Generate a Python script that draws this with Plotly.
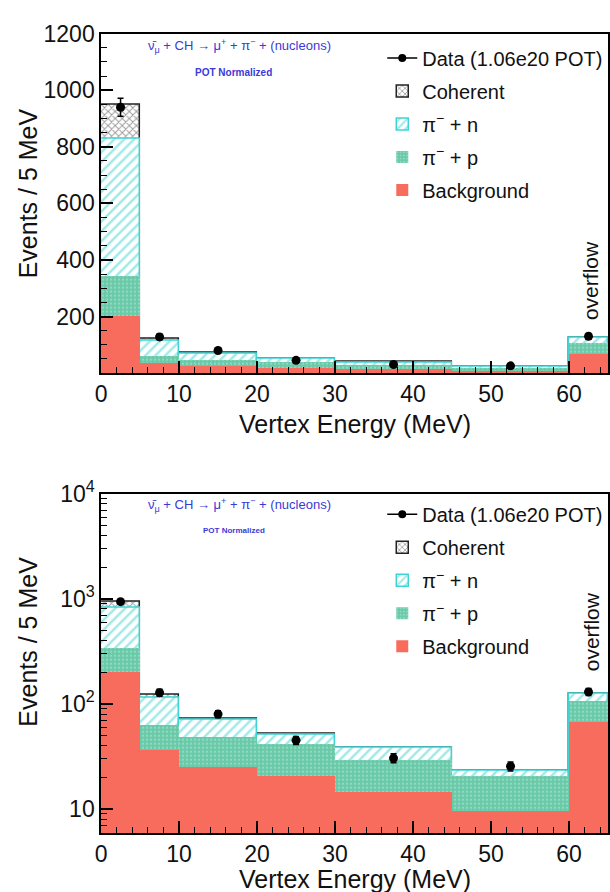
import numpy as np
import plotly.graph_objects as go

# ---------------- data (events / 5 MeV) ----------------
bin_edges = [0, 5, 10, 20, 30, 45, 60, 65]          # last bin = overflow
background = [203, 37, 25.5, 20.5, 14.6, 9.7, 67]
pim_p = [142, 26, 23.5, 21.5, 14.9, 10.9, 40]        # pi- + p
pim_n = [483, 52, 21, 9, 8.5, 2.4, 17]               # pi- + n
coherent = [120, 6, 2, 1, 0.6, 0.3, 2]
data_vals = [940, 128, 80, 45, 30.5, 25.5, 130]
data_errs = [32, 10, 6, 4, 3, 2.5, 10]

x_ticks = [0, 10, 20, 30, 40, 50, 60]
lin_ticks = [200, 400, 600, 800, 1000, 1200]
log_ticks = [10, 100, 1000, 10000]
log_ticktext = ["10", "10<sup>2</sup>", "10<sup>3</sup>", "10<sup>4</sup>"]

# ---------------- derived ----------------
edges = np.array(bin_edges, dtype=float)
centers = (edges[:-1] + edges[1:]) / 2
widths = edges[1:] - edges[:-1]
cum_bkg = np.array(background)
cum_p = cum_bkg + np.array(pim_p)
cum_n = cum_p + np.array(pim_n)
cum_coh = cum_n + np.array(coherent)

W, H = 610, 892
FONT = "Liberation Sans, Arial, Helvetica, sans-serif"
BLUE = "#3a3ad8"
RED = "#f86c5e"
CYAN = "#3fd3d3"
GREEN_BG = "#69c9a8"
GREEN_FG = "#b9ecd9"

fig = go.Figure()

panels = [("x", "y", "legend", "t"), ("x2", "y2", "legend2", "b")]
for xa, ya, lg, tag in panels:
    # legend-only entry for data (line + marker as in the reference)
    fig.add_trace(go.Scatter(
        x=[None], y=[None], mode="lines+markers", name="Data (1.06e20 POT)",
        line=dict(color="black", width=1.5), marker=dict(color="black", size=8),
        xaxis=xa, yaxis=ya, legend=lg, legendgroup=tag + "d"))
    fig.add_trace(go.Bar(
        x=centers, y=cum_coh, width=widths, name="Coherent",
        marker=dict(color="white", line=dict(color="#222222", width=1.5),
                    pattern=dict(shape="x", fgcolor="#333333", bgcolor="white",
                                 size=5, solidity=0.35)),
        xaxis=xa, yaxis=ya, legend=lg, legendgroup=tag + "c"))
    fig.add_trace(go.Bar(
        x=centers, y=cum_n, width=widths, name="π<sup>−</sup> + n",
        marker=dict(color="white", line=dict(color=CYAN, width=1.5),
                    pattern=dict(shape="/", fgcolor=CYAN, bgcolor="white",
                                 size=7, solidity=0.35)),
        xaxis=xa, yaxis=ya, legend=lg, legendgroup=tag + "n"))
    fig.add_trace(go.Bar(
        x=centers, y=cum_p, width=widths, name="π<sup>−</sup> + p",
        marker=dict(color=GREEN_BG, line=dict(width=0),
                    pattern=dict(shape=".", fgcolor=GREEN_FG, bgcolor=GREEN_BG,
                                 size=4, solidity=0.25)),
        xaxis=xa, yaxis=ya, legend=lg, legendgroup=tag + "p"))
    fig.add_trace(go.Bar(
        x=centers, y=cum_bkg, width=widths, name="Background",
        marker=dict(color=RED, line=dict(width=0)),
        xaxis=xa, yaxis=ya, legend=lg, legendgroup=tag + "b"))
    fig.add_trace(go.Scatter(
        x=centers, y=data_vals, mode="markers", showlegend=False,
        marker=dict(color="black", size=9),
        error_y=dict(type="data", array=data_errs, color="black", thickness=1.5, width=3),
        xaxis=xa, yaxis=ya))

def px_x(p):
    return p / W

def px_y(p):
    return 1 - p / H

xdom = [px_x(96), px_x(608)]
axis_common = dict(showline=True, mirror=True, linecolor="black", linewidth=1.5,
                   ticks="inside", ticklen=12, tickwidth=1.5, tickcolor="black",
                   showgrid=False, zeroline=False,
                   tickfont=dict(family=FONT, size=23, color="#111111"))

legend_common = dict(xanchor="left", yanchor="top",
                     font=dict(family=FONT, size=20, color="#111111"),
                     bgcolor="rgba(255,255,255,0)", borderwidth=0,
                     tracegroupgap=4, itemwidth=30, traceorder="grouped")

fig.update_layout(
    width=W, height=H, margin=dict(l=0, r=0, t=0, b=0),
    paper_bgcolor="white", plot_bgcolor="white",
    barmode="overlay", bargap=0,
    font=dict(family=FONT, color="#111111"),
    xaxis=dict(domain=xdom, anchor="y", range=[0, 65], tickvals=x_ticks,
               minor=dict(dtick=2, tick0=0, ticks="inside", ticklen=6, tickwidth=1.2,
                          tickcolor="black"), **axis_common),
    yaxis=dict(domain=[px_y(363), px_y(17)], anchor="x", range=[0, 1200],
               tickvals=lin_ticks,
               minor=dict(dtick=50, tick0=0, ticks="inside", ticklen=6, tickwidth=1.2,
                          tickcolor="black"), **axis_common),
    xaxis2=dict(domain=xdom, anchor="y2", range=[0, 65], tickvals=x_ticks,
                minor=dict(dtick=2, tick0=0, ticks="inside", ticklen=6, tickwidth=1.2,
                           tickcolor="black"), **axis_common),
    yaxis2=dict(domain=[px_y(832), px_y(486)], anchor="x2", type="log",
                range=[0.77, 4.0], tickvals=log_ticks, ticktext=log_ticktext,
                minor=dict(tickvals=[k * 10 ** d for d in range(0, 4) for k in range(2, 10)],
                           ticks="inside", ticklen=6, tickwidth=1.2, tickcolor="black"),
                **axis_common),
    legend=dict(x=px_x(380), y=px_y(22), **legend_common),
    legend2=dict(x=px_x(380), y=px_y(487), **legend_common),
)

annots = []
for y_axis_title_c, x_title_c, reac_y, pot_y, pot_size, ovf_y in [
        (180, 415, 30, 57, 10, 269), (637, 879, 497, 523, 8, 627)]:
    annots.append(dict(text="Vertex Energy (MeV)", x=px_x(352), y=px_y(x_title_c),
                       xref="paper", yref="paper", showarrow=False,
                       xanchor="center", yanchor="middle",
                       font=dict(family=FONT, size=25, color="#111111")))
    annots.append(dict(text="Events / 5 MeV", x=px_x(22), y=px_y(y_axis_title_c),
                       xref="paper", yref="paper", showarrow=False, textangle=-90,
                       xanchor="center", yanchor="middle",
                       font=dict(family=FONT, size=25, color="#111111")))
    annots.append(dict(text="ν̄<sub>μ</sub> + CH → μ<sup>+</sup> + π<sup>−</sup> + (nucleons)",
                       x=px_x(236), y=px_y(reac_y), xref="paper", yref="paper",
                       showarrow=False, xanchor="center", yanchor="middle",
                       font=dict(family=FONT, size=13, color=BLUE)))
    annots.append(dict(text="<b>POT Normalized</b>", x=px_x(230), y=px_y(pot_y),
                       xref="paper", yref="paper", showarrow=False,
                       xanchor="center", yanchor="middle",
                       font=dict(family=FONT, size=pot_size, color=BLUE)))
    annots.append(dict(text="overflow", x=px_x(591), y=px_y(ovf_y),
                       xref="paper", yref="paper", showarrow=False, textangle=-90,
                       xanchor="center", yanchor="middle",
                       font=dict(family=FONT, size=21, color="#111111")))
fig.update_layout(annotations=annots)

fig.write_html("out.html")
